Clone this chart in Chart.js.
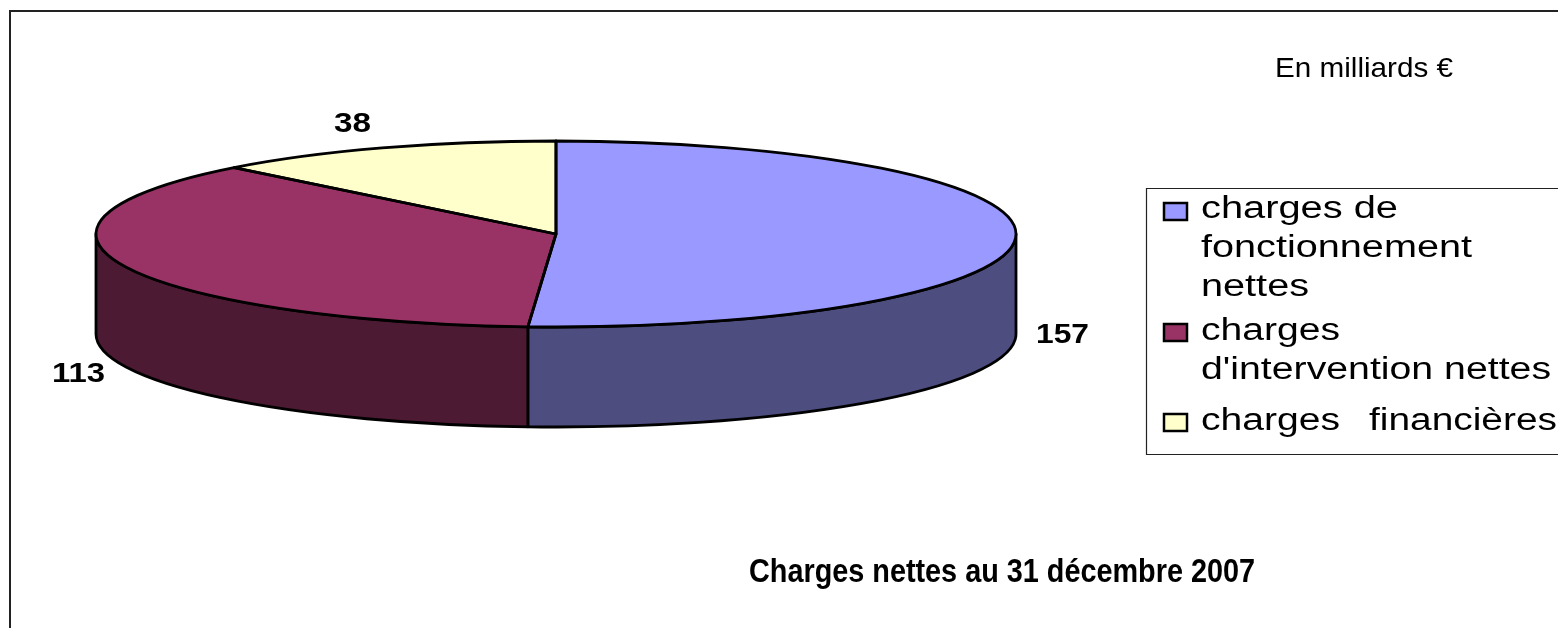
<!DOCTYPE html>
<html>
<head>
<meta charset="utf-8">
<style>html,body{margin:0;padding:0;background:#fff}canvas{display:block}</style>
<script src="https://cdn.jsdelivr.net/npm/chart.js@4"></script>
</head>
<body>
<canvas id="c" width="1558" height="628"></canvas>
<script>
const categories = ["charges de fonctionnement nettes", "charges d'intervention nettes", "charges  financières"];
const values = [157, 113, 38];
const topColors = ["#9999FF", "#993366", "#FFFFCC"];
const wallColors = ["#4D4D80", "#4D1A33", "#80806A"];
const titleText = "Charges nettes au 31 décembre 2007";
const unitText = "En milliards €";

const FONT = '"Liberation Sans", Arial, sans-serif';
const RX = 460, RY = 93, DEPTH = 100;

function stretched(ctx, text, x, baseline, width, font) {
  ctx.save();
  ctx.font = font;
  ctx.fillStyle = "#000";
  ctx.textAlign = "left";
  ctx.textBaseline = "alphabetic";
  const natural = ctx.measureText(text).width;
  ctx.translate(x, baseline);
  ctx.scale(width / natural, 1);
  ctx.fillText(text, 0, 0);
  ctx.restore();
}

const pie3d = {
  id: "pie3d",
  beforeDraw(chart) {
    const ctx = chart.ctx;
    ctx.save();
    ctx.strokeStyle = "#222";
    ctx.lineWidth = 2;
    ctx.beginPath();
    ctx.moveTo(10, 628);
    ctx.lineTo(10, 11);
    ctx.lineTo(1558, 11);
    ctx.stroke();
    ctx.restore();
  },
  beforeDatasetsDraw(chart) {
    const ctx = chart.ctx;
    const arcs = chart.getDatasetMeta(0).data;
    const cx = arcs[0].x, cy = arcs[0].y;
    ctx.save();
    ctx.lineJoin = "round";
    arcs.forEach((a, i) => {
      const s = Math.max(a.startAngle, 0), e = Math.min(a.endAngle, Math.PI);
      if (e <= s) return;
      ctx.beginPath();
      ctx.ellipse(cx, cy, RX, RY, 0, s, e);
      ctx.ellipse(cx, cy + DEPTH, RX, RY, 0, e, s, true);
      ctx.closePath();
      ctx.fillStyle = wallColors[i];
      ctx.fill();
      ctx.strokeStyle = "#000";
      ctx.lineWidth = 2.8;
      ctx.stroke();
    });
    ctx.restore();
    ctx.save();
    ctx.translate(cx, cy);
    ctx.scale(1, RY / RX);
    ctx.translate(-cx, -cy);
  },
  afterDatasetsDraw(chart) {
    const ctx = chart.ctx;
    ctx.restore();
    const arcs = chart.getDatasetMeta(0).data;
    ctx.save();
    ctx.lineJoin = "round";
    ctx.strokeStyle = "#000";
    ctx.lineWidth = 2.8;
    arcs.forEach(a => {
      ctx.beginPath();
      ctx.moveTo(a.x, a.y);
      ctx.ellipse(a.x, a.y, RX, RY, 0, a.startAngle, a.endAngle);
      ctx.closePath();
      ctx.stroke();
    });
    ctx.restore();
  },
  afterDraw(chart) {
    const ctx = chart.ctx;
    const bold = "bold 27px " + FONT;
    stretched(ctx, String(values[0]), 1036, 343, 53, bold);
    stretched(ctx, String(values[1]), 52, 382, 53, bold);
    stretched(ctx, String(values[2]), 334, 132, 37, bold);
    stretched(ctx, unitText, 1275, 77, 178, "28px " + FONT);
    stretched(ctx, titleText, 749, 582, 506, "bold 34px " + FONT);

    ctx.save();
    ctx.strokeStyle = "#222";
    ctx.lineWidth = 1.2;
    ctx.beginPath();
    ctx.moveTo(1558, 188.5);
    ctx.lineTo(1146.5, 188.5);
    ctx.lineTo(1146.5, 454.5);
    ctx.lineTo(1558, 454.5);
    ctx.stroke();
    const swatches = [[1164, 203], [1164, 324], [1164, 414]];
    swatches.forEach((p, i) => {
      ctx.fillStyle = topColors[i];
      ctx.fillRect(p[0], p[1], 23, 17);
      ctx.strokeStyle = "#000";
      ctx.lineWidth = 2.5;
      ctx.strokeRect(p[0], p[1], 23, 17);
    });
    ctx.restore();
    const f = "31px " + FONT;
    stretched(ctx, "charges de", 1201, 218, 197, f);
    stretched(ctx, "fonctionnement", 1201, 257, 271, f);
    stretched(ctx, "nettes", 1201, 296, 108, f);
    stretched(ctx, "charges", 1201, 340, 139, f);
    stretched(ctx, "d'intervention nettes", 1201, 379, 350, f);
    stretched(ctx, "charges", 1201, 430, 139, f);
    stretched(ctx, "financières", 1369, 430, 188, f);
  }
};

new Chart(document.getElementById("c"), {
  type: "pie",
  data: {
    labels: categories,
    datasets: [{
      data: values,
      backgroundColor: topColors,
      borderWidth: 0,
      clip: false
    }]
  },
  options: {
    responsive: false,
    animation: false,
    radius: RX,
    layout: { padding: { left: 0, right: 446, top: 0, bottom: 160 } },
    plugins: { legend: { display: false }, title: { display: false }, tooltip: { enabled: false } }
  },
  plugins: [pie3d]
});
</script>
</body>
</html>
